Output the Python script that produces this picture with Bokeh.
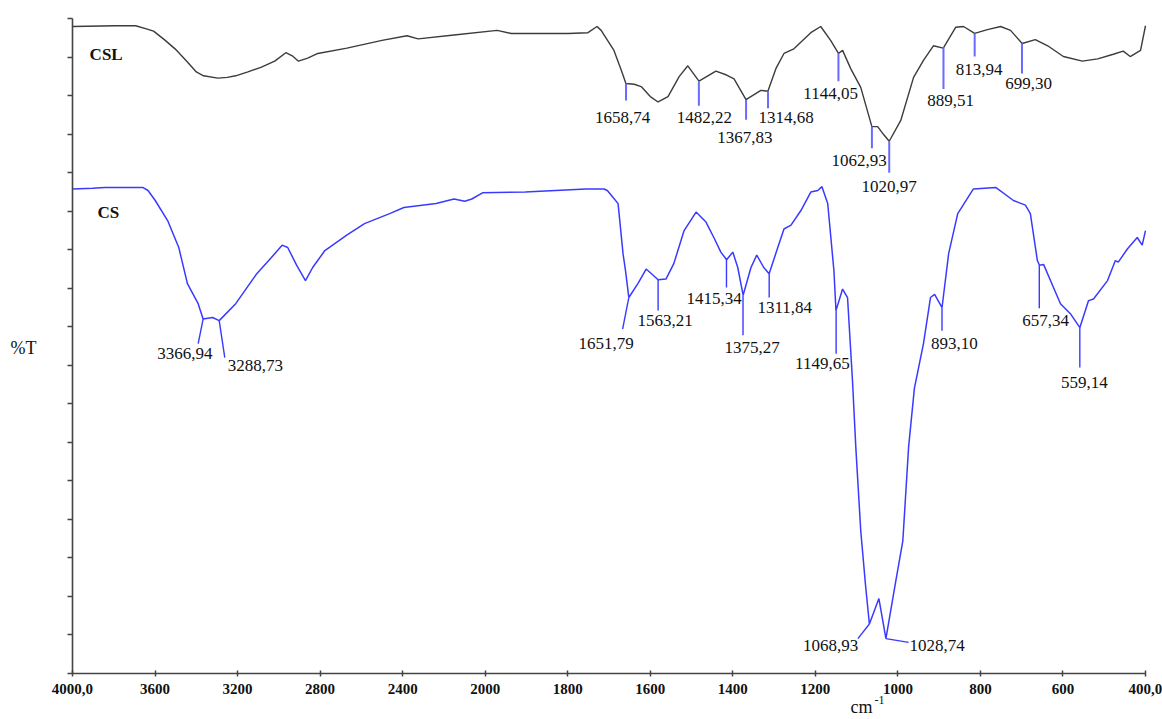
from bokeh.plotting import figure
from bokeh.models import Range1d, FixedTicker, CustomJSTickFormatter
from bokeh.embed import file_html
from bokeh.resources import INLINE
from bokeh.core.properties import value

# ---------------- data ----------------
# CSL spectrum: wavenumber (cm-1) and %T
csl_wn = [4000, 3791, 3694, 3642, 3607, 3555, 3503, 3443, 3400, 3365,
          3296, 3250, 3209, 3150, 3087, 3020, 2966, 2935, 2905, 2860,
          2811, 2670, 2500, 2379, 2325, 2151, 1971, 1937, 1799, 1751,
          1729, 1719, 1688, 1670, 1659, 1639, 1622, 1600, 1581, 1557,
          1530, 1509, 1482, 1441, 1415, 1397, 1368, 1332, 1315, 1295,
          1276, 1252, 1211, 1187, 1163, 1144, 1134, 1114, 1090, 1063,
          1049, 1035, 1021, 993, 962, 938, 914, 890, 860, 841,
          814, 783, 751, 727, 699, 667, 637, 599, 553, 516,
          478, 454, 437, 412, 400]
csl_t = [84.0, 84.1, 84.1, 83.7, 83.4, 82.3, 81.1, 79.4, 78.1, 77.6,
         77.3, 77.4, 77.6, 78.1, 78.7, 79.5, 80.6, 80.2, 79.5, 79.9,
         80.5, 81.2, 82.2, 82.8, 82.4, 82.9, 83.5, 83.1, 83.1, 83.2,
         84.0, 83.5, 80.9, 78.3, 76.6, 76.5, 76.2, 74.9, 74.2, 74.9,
         77.5, 78.9, 76.9, 78.2, 77.7, 77.2, 74.5, 75.7, 75.6, 78.6,
         80.5, 81.1, 83.2, 84.0, 82.2, 80.5, 80.9, 78.5, 76.1, 71.0,
         71.0, 70.0, 69.1, 71.8, 77.4, 79.6, 81.5, 81.2, 83.9, 84.0,
         83.1, 83.6, 84.0, 83.5, 81.8, 82.3, 81.5, 80.1, 79.5, 79.8,
         80.4, 80.8, 80.1, 80.9, 84.1]

# CS spectrum
cs_wn = [4000, 3903, 3842, 3660, 3634, 3599, 3539, 3485, 3443, 3391,
         3367, 3321, 3289, 3209, 3107, 3036, 2984, 2957, 2914, 2871,
         2836, 2777, 2671, 2585, 2463, 2394, 2238, 2151, 2099, 2065,
         2013, 1903, 1756, 1712, 1704, 1690, 1678, 1666, 1660, 1652,
         1630, 1610, 1593, 1581, 1562, 1543, 1518, 1489, 1465, 1446,
         1429, 1415, 1400, 1388, 1375, 1356, 1342, 1325, 1312, 1291,
         1276, 1259, 1235, 1211, 1194, 1184, 1170, 1155, 1150, 1134,
         1122, 1110, 1102, 1090, 1078, 1069, 1046, 1029, 1005, 988,
         974, 960, 938, 921, 911, 893, 877, 855, 817, 763,
         720, 691, 679, 662, 657, 647, 623, 606, 582, 559,
         538, 526, 492, 473, 466, 444, 420, 408, 400]
cs_t = [62.9, 63.0, 63.1, 63.1, 62.7, 61.4, 58.8, 55.3, 50.6, 48.0,
        46.0, 46.2, 45.8, 48.0, 51.9, 54.0, 55.6, 55.3, 53.0, 51.0,
        52.7, 54.9, 56.9, 58.4, 59.7, 60.5, 61.0, 61.6, 61.3, 61.6,
        62.4, 62.5, 62.9, 62.9, 62.7, 61.8, 61.0, 54.5, 52.3, 48.8,
        50.6, 52.5, 51.7, 51.1, 51.2, 53.2, 57.5, 59.9, 58.6, 56.6,
        54.7, 53.7, 54.7, 52.7, 49.1, 52.7, 54.3, 52.7, 51.9, 55.3,
        57.7, 58.2, 60.1, 62.5, 62.7, 63.2, 61.0, 52.3, 47.1, 49.9,
        48.8, 38.0, 29.4, 18.5, 11.2, 6.4, 9.7, 4.5, 12.0, 17.2,
        29.4, 37.0, 42.8, 48.8, 49.2, 47.5, 54.5, 59.7, 62.9, 63.1,
        61.4, 60.8, 59.7, 53.6, 53.0, 53.1, 50.1, 48.0, 46.7, 44.9,
        48.4, 48.6, 51.0, 53.6, 53.4, 55.1, 56.6, 55.6, 57.5]

# CSL peak markers
csl_peak_text = ["1658,74", "1482,22", "1367,83", "1314,68", "1144,05",
                 "1062,93", "1020,97", "889,51", "813,94", "699,30"]
csl_peak_wn = [1658.74, 1482.22, 1367.83, 1314.68, 1144.05,
               1062.93, 1020.97, 889.51, 813.94, 699.30]
csl_peak_top = [76.6, 76.9, 74.5, 75.6, 80.5, 71.0, 69.1, 81.3, 83.1, 81.8]
csl_peak_bot = [74.4, 73.7, 71.9, 73.4, 76.9, 68.2, 65.0, 75.9, 80.1, 77.9]
csl_label_wn = [1667, 1469, 1371, 1271, 1163, 1094, 1021, 872, 803, 683]
csl_label_t = [72.2, 72.2, 69.6, 72.2, 75.3, 66.6, 63.2, 74.4, 78.4, 76.6]

# CS peak markers
cs_peak_text = ["3366,94", "3288,73", "1651,79", "1563,21", "1415,34", "1375,27",
                "1311,84", "1149,65", "893,10", "657,34", "559,14", "1068,93", "1028,74"]
cs_mark_wn0 = [3367, 3289, 1652, 1581, 1415.34, 1375.27,
               1311.84, 1149.65, 893.10, 657.34, 559.14, 1069, 1029]
cs_mark_t0 = [46.0, 45.8, 48.8, 51.1, 53.7, 49.1, 51.9, 47.1, 47.5, 53.0, 44.9, 6.4, 4.5]
cs_mark_wn1 = [3391, 3262, 1667, 1581, 1415.34, 1375.27,
               1311.84, 1149.65, 893.10, 657.34, 559.14, 1097, 974]
cs_mark_t1 = [42.8, 41.0, 44.7, 47.1, 50.1, 43.9, 48.8, 41.5, 44.5, 47.4, 39.7, 4.5, 4.0]
cs_label_wn = [3456, 3114, 1707, 1564, 1445, 1353, 1274, 1183, 863, 642, 548, 1163, 905]
cs_label_t = [41.5, 40.0, 42.8, 45.8, 48.7, 42.3, 47.5, 40.2, 42.8, 45.8, 37.8, 3.6, 3.6]

series_names = ["CSL", "CS"]
series_name_wn = [3917, 3879]
series_name_t = [80.4, 59.8]

tick_wn = [4000, 3600, 3200, 2800, 2400, 2000, 1800, 1600, 1400, 1200, 1000, 800, 600, 400]
tick_labels = ["4000,0", "3600", "3200", "2800", "2400", "2000", "1800", "1600",
               "1400", "1200", "1000", "800", "600", "400,0"]
y_ticks = [0, 5, 10, 15, 20, 25, 30, 35, 40, 45, 50, 55, 60, 65, 70, 75, 80, 85]


# split wavenumber scale: 400 cm-1 per division above 2000, 200 cm-1 per division below
def xpos(w):
    return (4000.0 - w) / 400.0 if w >= 2000 else 5.0 + (2000.0 - w) / 200.0


def xs(ws):
    return [xpos(w) for w in ws]


SERIF = value("Liberation Serif")
CSL_COL = "#3c3c3c"
CS_COL = "#3a3aff"
MARK_COL = "#6a6aff"
AX_COL = "#444444"

# the frame spans the whole canvas; axes are pinned at 0 with bounded lines
p = figure(width=1162, height=719, output_backend="svg", toolbar_location=None,
           x_range=Range1d(-0.8723, 13.206), y_range=Range1d(-6.01, 87.38),
           min_border=0, min_border_left=0, min_border_right=0,
           min_border_top=0, min_border_bottom=0)
p.outline_line_color = None
p.xgrid.visible = False
p.ygrid.visible = False
p.background_fill_color = "white"
p.border_fill_color = "white"

xa = p.xaxis[0]
ya = p.yaxis[0]
for ax in (xa, ya):
    ax.fixed_location = 0
    ax.axis_line_color = AX_COL
    ax.axis_line_width = 1.6
    ax.major_tick_line_color = AX_COL
    ax.major_tick_line_width = 1.5
    ax.minor_tick_line_color = None

xa.bounds = (0, 13)
xa.ticker = FixedTicker(ticks=[int(round(xpos(w))) for w in tick_wn])
xa.major_label_overrides = {int(round(xpos(w))): lab for w, lab in zip(tick_wn, tick_labels)}
xa.major_tick_in = 3
xa.major_tick_out = 3
xa.major_label_standoff = 8
xa.major_label_text_font = "Liberation Serif"
xa.major_label_text_font_style = "bold"
xa.major_label_text_font_size = "15px"
xa.major_label_text_color = "#111111"

ya.bounds = (0, 85)
ya.ticker = FixedTicker(ticks=y_ticks)
ya.major_tick_in = 0
ya.major_tick_out = 5
ya.formatter = CustomJSTickFormatter(code="return ''")

# spectra
p.line(xs(csl_wn), csl_t, line_color=CSL_COL, line_width=1.4)
p.line(xs(cs_wn), cs_t, line_color=CS_COL, line_width=1.5)

# peak markers
p.segment(x0=xs(csl_peak_wn), y0=csl_peak_top, x1=xs(csl_peak_wn), y1=csl_peak_bot,
          line_color=MARK_COL, line_width=2)
p.segment(x0=xs(cs_mark_wn0), y0=cs_mark_t0, x1=xs(cs_mark_wn1), y1=cs_mark_t1,
          line_color=CS_COL, line_width=1.4)

# peak labels
p.text(x=xs(csl_label_wn), y=csl_label_t, text=csl_peak_text, text_font=SERIF,
       text_font_size="17px", text_align="center", text_baseline="middle", text_color="#111111")
p.text(x=xs(cs_label_wn), y=cs_label_t, text=cs_peak_text, text_font=SERIF,
       text_font_size="17px", text_align="center", text_baseline="middle", text_color="#111111")

# series names
p.text(x=xs(series_name_wn), y=series_name_t, text=series_names, text_font=SERIF,
       text_font_size="17px", text_font_style="bold", text_align="left",
       text_baseline="middle", text_color="#111111")

# axis titles
p.text(x=[-0.751], y=[42.3], text=["%T"], text_font=SERIF, text_font_size="18px",
       text_align="left", text_baseline="middle", text_color="#111111")
p.text(x=[9.426], y=[-4.35], text=["cm"], text_font=SERIF, text_font_size="18px",
       text_align="left", text_baseline="alphabetic", text_color="#111111")
p.text(x=[9.716], y=[-3.45], text=["-1"], text_font=SERIF, text_font_size="12px",
       text_align="left", text_baseline="alphabetic", text_color="#111111")

open("out.html", "w").write(file_html(p, INLINE))
